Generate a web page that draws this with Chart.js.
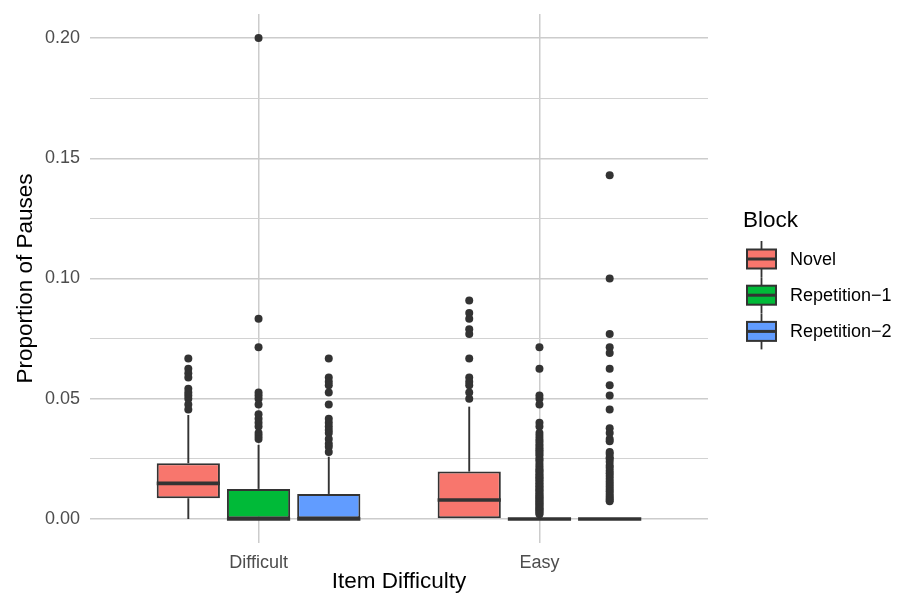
<!DOCTYPE html>
<html>
<head>
<meta charset="utf-8">
<script src="https://cdn.jsdelivr.net/npm/chart.js@4.4.1/dist/chart.umd.min.js"></script>
<style>
  html, body { margin: 0; padding: 0; background: #fff; }
</style>
</head>
<body>
<canvas id="chart" width="900" height="597"></canvas>
<script>
// ── data ─────────────────────────────────────────────────────────────────────
const categories = ['Difficult', 'Easy'];
const blocks = ['Novel', 'Repetition\u22121', 'Repetition\u22122'];
const blockColors = ['#F8766D', '#00BA38', '#619CFF'];

// one row per block, one column per category
const boxQ1        = [[0.0086, 0.0000], [0.0000, 0.0000], [0.0000, 0.0000]];
const boxMedian    = [[0.0148, 0.0079], [0.0000, 0.0000], [0.0000, 0.0000]];
const boxQ3        = [[0.0232, 0.0197], [0.0125, 0.0000], [0.0104, 0.0000]];
const whiskerLow   = [[0.0000, 0.0000], [0.0000, 0.0000], [0.0000, 0.0000]];
const whiskerHigh  = [[0.0432, 0.0467], [0.0308, 0.0000], [0.0259, 0.0000]];

const outNovelDifficult = [0.0667, 0.0625, 0.0606, 0.0588, 0.0541, 0.0526, 0.0513, 0.05, 0.0476, 0.0455];
const outNovelEasy = [0.0909, 0.0857, 0.0833, 0.0789, 0.0769, 0.0667, 0.0588, 0.0571, 0.0556, 0.0526, 0.05];
const outRep1Difficult = [0.2, 0.0833, 0.0714, 0.0526, 0.0513, 0.05, 0.0476, 0.0435, 0.0417, 0.04, 0.0385,
  0.0357, 0.0345, 0.0333];
const outRep1Easy = [0.0714, 0.0625, 0.0513, 0.05, 0.0476, 0.04, 0.0385, 0.0357, 0.0345, 0.0333, 0.0323,
  0.0312, 0.0303, 0.0294, 0.0286, 0.0278, 0.027, 0.0263, 0.025, 0.0244, 0.0233, 0.0222, 0.0213, 0.0204,
  0.02, 0.0192, 0.0185, 0.0179, 0.0172, 0.0167, 0.0161, 0.0154, 0.0147, 0.0141, 0.0135, 0.013, 0.0123,
  0.0118, 0.0112, 0.0106, 0.01, 0.0095, 0.009, 0.0085, 0.008, 0.0075, 0.007, 0.0065, 0.006, 0.0055,
  0.005, 0.0045, 0.004, 0.0035, 0.003, 0.0025, 0.002];
const outRep2Difficult = [0.0667, 0.0588, 0.0571, 0.0556, 0.0526, 0.0476, 0.0417, 0.04, 0.0385, 0.037,
  0.0357, 0.0333, 0.0313, 0.03, 0.0278];
const outRep2Easy = [0.1429, 0.1, 0.0769, 0.0714, 0.069, 0.0625, 0.0556, 0.0513, 0.0455, 0.0377, 0.0357,
  0.0333, 0.0323, 0.0278, 0.027, 0.0256, 0.025, 0.0238, 0.0222, 0.0213, 0.02, 0.019, 0.0179, 0.0167,
  0.0156, 0.0145, 0.0135, 0.0125, 0.0115, 0.0105, 0.0095, 0.0087, 0.008, 0.0074];
const outliers = [
  [outNovelDifficult, outNovelEasy],
  [outRep1Difficult, outRep1Easy],
  [outRep2Difficult, outRep2Easy]
];

const yMajorTicks = [0, 0.05, 0.10, 0.15, 0.20];
const yMinorTicks = [0.025, 0.075, 0.125, 0.175];
const yTickLabels = ['0.00', '0.05', '0.10', '0.15', '0.20'];

// ── datasets ─────────────────────────────────────────────────────────────────
const dodge = [-0.25, 0, 0.25];
const INK = '#333333';

const datasets = [];
blocks.forEach((b, i) => {
  datasets.push({
    type: 'bar', label: b,
    data: categories.map((c, j) => ({ x: j + 1, y: [boxQ1[i][j], boxQ3[i][j]] })),
    backgroundColor: blockColors[i], borderColor: INK, borderWidth: 2, borderSkipped: false,
    categoryPercentage: 0.75, barPercentage: 0.9, grouped: true, order: 2
  });
});
blocks.forEach((b, i) => {
  categories.forEach((c, j) => {
    datasets.push({
      type: 'scatter', label: b + ' outliers',
      data: outliers[i][j].map(v => ({ x: j + 1 + dodge[i], y: v })),
      pointRadius: 4, pointHoverRadius: 4, pointBackgroundColor: INK, pointBorderWidth: 0, order: 1
    });
  });
});

// whiskers + medians on top of the bars
const boxPlugin = {
  id: 'boxWhiskers',
  afterDatasetsDraw(chart) {
    const ctx = chart.ctx, y = chart.scales.y;
    ctx.save();
    ctx.strokeStyle = INK;
    blocks.forEach((b, i) => {
      chart.getDatasetMeta(i).data.forEach((bar, j) => {
        const x = bar.x, half = bar.width / 2;
        ctx.lineWidth = 1.9;
        ctx.beginPath();
        ctx.moveTo(x, y.getPixelForValue(boxQ3[i][j])); ctx.lineTo(x, y.getPixelForValue(whiskerHigh[i][j]));
        ctx.moveTo(x, y.getPixelForValue(boxQ1[i][j])); ctx.lineTo(x, y.getPixelForValue(whiskerLow[i][j]));
        ctx.stroke();
        const ym = y.getPixelForValue(boxMedian[i][j]);
        ctx.lineWidth = 3.6;
        ctx.beginPath(); ctx.moveTo(x - half, ym); ctx.lineTo(x + half, ym); ctx.stroke();
      });
    });
    ctx.restore();
  }
};

// ggplot-style legend with boxplot keys
const legendPlugin = {
  id: 'blockLegend',
  afterDraw(chart) {
    const ctx = chart.ctx;
    ctx.save();
    ctx.fillStyle = '#000';
    ctx.font = "22.5px 'Liberation Sans', Arial, sans-serif";
    ctx.textBaseline = 'alphabetic';
    ctx.textAlign = 'left';
    ctx.fillText('Block', 743, 227);
    blocks.forEach((b, i) => {
      const cy = 259 + i * 36.2, x0 = 747, w = 29, h = 19;
      ctx.strokeStyle = INK;
      ctx.lineWidth = 1.8;
      ctx.beginPath(); ctx.moveTo(x0 + w / 2, cy - 18); ctx.lineTo(x0 + w / 2, cy + 18); ctx.stroke();
      ctx.fillStyle = blockColors[i];
      ctx.fillRect(x0, cy - h / 2, w, h);
      ctx.lineWidth = 2;
      ctx.strokeRect(x0, cy - h / 2, w, h);
      ctx.lineWidth = 3;
      ctx.beginPath(); ctx.moveTo(x0, cy); ctx.lineTo(x0 + w, cy); ctx.stroke();
      ctx.fillStyle = '#000';
      ctx.font = "18px 'Liberation Sans', Arial, sans-serif";
      ctx.textBaseline = 'middle';
      ctx.fillText(b, 790, cy + 1);
    });
    ctx.restore();
  }
};

Chart.defaults.font.family = "'Liberation Sans', Arial, sans-serif";

const MAJOR_GRID = '#cccccc';
const MINOR_GRID = '#d2d2d2';

new Chart(document.getElementById('chart'), {
  type: 'bar',
  data: { datasets },
  plugins: [boxPlugin, legendPlugin],
  options: {
    responsive: false, animation: false, devicePixelRatio: 1,
    layout: { padding: { top: 14, right: 192, left: 0, bottom: 0 } },
    plugins: { legend: { display: false }, tooltip: { enabled: false } },
    scales: {
      x: {
        type: 'linear', min: 0.4, max: 2.6, offset: false,
        afterBuildTicks: s => { s.ticks = categories.map((c, j) => ({ value: j + 1 })); },
        afterFit: s => { s.height = 54; s.paddingLeft = 0; s.paddingRight = 0; },
        grid: { offset: false, drawTicks: false, color: MAJOR_GRID, lineWidth: 1.5 },
        border: { display: false },
        ticks: {
          autoSkip: false, maxRotation: 0, padding: 9, color: '#4d4d4d', font: { size: 18 },
          callback: v => categories[Math.round(v) - 1]
        },
        title: { display: true, text: 'Item Difficulty', color: '#000', font: { size: 22.5 },
          padding: { top: 0, bottom: 2 } }
      },
      y: {
        type: 'linear', min: -0.01, max: 0.21,
        afterBuildTicks: s => {
          s.ticks = [...yMajorTicks, ...yMinorTicks].sort((a, b) => a - b).map(v => ({ value: v }));
        },
        afterFit: s => { s.width = 90; s.paddingTop = 0; s.paddingBottom = 0; },
        grid: {
          drawTicks: false,
          color: c => (c.tick && yMinorTicks.includes(c.tick.value)) ? MINOR_GRID : MAJOR_GRID,
          lineWidth: c => (c.tick && yMinorTicks.includes(c.tick.value)) ? 1 : 1.5
        },
        border: { display: false },
        ticks: {
          autoSkip: false, padding: 10, color: '#4d4d4d', font: { size: 18 },
          callback: v => { const k = yMajorTicks.indexOf(v); return k >= 0 ? yTickLabels[k] : ''; }
        },
        title: { display: true, text: 'Proportion of Pauses', color: '#000', font: { size: 22.5 },
          padding: { top: 12, bottom: 0 } }
      }
    }
  }
});
</script>
</body>
</html>
